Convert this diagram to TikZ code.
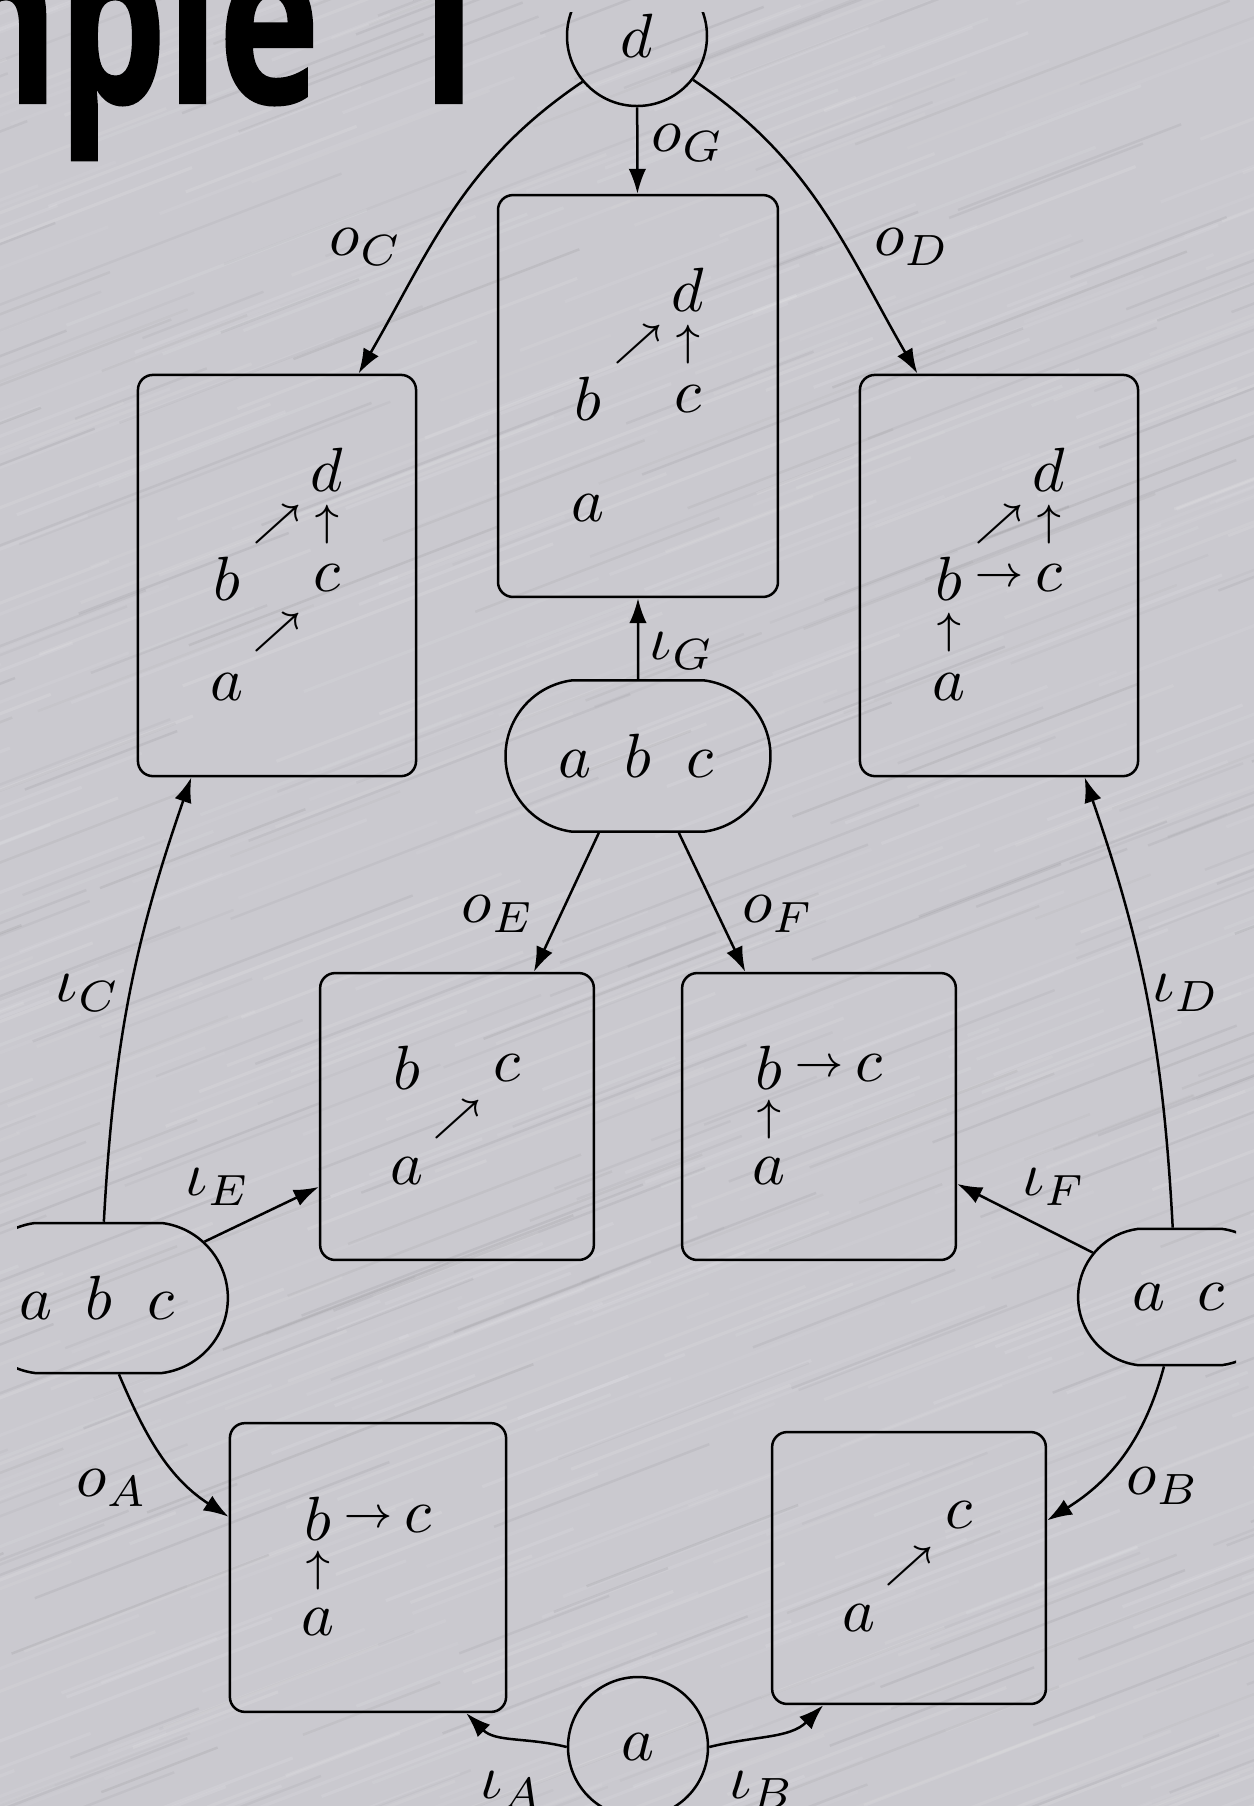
\documentclass[tikz,border=0pt]{standalone}
\usepackage{fontspec}
\usetikzlibrary{shapes.misc,arrows.meta,matrix}
\newfontfamily\titlefont{Open Sans}[BoldFeatures={FakeBold=1}]
\definecolor{metal}{RGB}{202,201,207}
\newcommand\lettercell[1]{\makebox[10pt]{$#1$}}
\begin{document}
\begin{tikzpicture}[x=0.16pt,y=0.16pt,
  every node/.style={inner sep=0pt},
  box/.style={draw, rounded corners=2.4pt},
  oval/.style={draw, rounded rectangle, rounded rectangle arc length=165},
  ring/.style={draw, circle, minimum size=22.4pt},
  grid/.style={matrix of math nodes, nodes in empty cells,
    column sep={8pt,between origins},
    nodes={anchor=center, minimum width=8pt, minimum height=7pt, inner sep=0pt}},
  tallgrid/.style={grid, row sep={8.7pt,between origins}},
  shortgrid/.style={grid, row sep={8.3pt,between origins}},
  edge/.style={-{Latex[length=4pt,width=2.8pt]}, line width=0.4pt},
  lbl/.style={}]
\path[use as bounding box] (0,0) rectangle (1254,-1806);
\fill[metal] (0,0) rectangle (1254,-1806);
\pgfmathsetseed{3}
\foreach \i in {1,...,600}{
  \pgfmathsetmacro\sx{rnd*1700-400}
  \pgfmathsetmacro\sy{-rnd*2100+150}
  \pgfmathsetmacro\sl{120+rnd*300}
  \pgfmathsetmacro\so{0.04+0.08*rnd}
  \draw[white, opacity=\so, line width=0.5pt] (\sx,\sy) -- ++(21:\sl);
}
\foreach \i in {1,...,300}{
  \pgfmathsetmacro\sx{rnd*1700-400}
  \pgfmathsetmacro\sy{-rnd*2100+150}
  \pgfmathsetmacro\sl{120+rnd*300}
  \pgfmathsetmacro\so{0.02+0.04*rnd}
  \draw[black, opacity=\so, line width=0.4pt] (\sx,\sy) -- ++(21:\sl);
}
\node[anchor=base east, font=\titlefont\bfseries\fontsize{38}{42}\selectfont] (title) at (490,-103) {\scalebox{0.72}[1]{Example\hspace{6pt} 1}};
\begin{scope}
\clip (17,-12) rectangle (1236,-1830);
\node[ring] (topd) at (637,-36) {$d$};
\node[ring] (bota) at (638,-1747) {$a$};
\node[oval, minimum width=42.4pt, minimum height=24.2pt] (midabc) at (638,-756) {\lettercell{a}\lettercell{b}\lettercell{c}};
\node[oval, minimum width=41.4pt, minimum height=24pt] (leftabc) at (98.5,-1298) {\lettercell{a}\lettercell{b}\lettercell{c}};
\node[oval, minimum width=32.6pt, minimum height=21.8pt] (rightac) at (1180,-1297) {\lettercell{a}\lettercell{c}};
\node[box, minimum width=44.8pt, minimum height=64.3pt] (boxG) at (638,-396) {};
\node[box, minimum width=44.5pt, minimum height=64.2pt] (boxC) at (277,-575.5) {};
\node[box, minimum width=44.5pt, minimum height=64.2pt] (boxD) at (999,-575.5) {};
\node[box, minimum width=43.8pt, minimum height=45.9pt] (boxE) at (457,-1116.5) {};
\node[box, minimum width=43.8pt, minimum height=45.9pt] (boxF) at (819,-1116.5) {};
\node[box, minimum width=44.2pt, minimum height=46.2pt] (boxA) at (368,-1567.5) {};
\node[box, minimum width=43.8pt, minimum height=43.5pt] (boxB) at (909,-1568) {};
\matrix (mG) [tallgrid] at ([yshift=-0.48pt]boxG.center) {
  & & d \\
  & \scriptstyle\nearrow & \scriptstyle\uparrow \\
  b & & c \\
  & & \\
  a & & \\
};
\matrix (mC) [tallgrid] at ([yshift=-0.48pt]boxC.center) {
  & & d \\
  & \scriptstyle\nearrow & \scriptstyle\uparrow \\
  b & & c \\
  & \scriptstyle\nearrow & \\
  a & & \\
};
\matrix (mD) [tallgrid] at ([yshift=-0.48pt]boxD.center) {
  & & d \\
  & \scriptstyle\nearrow & \scriptstyle\uparrow \\
  b & \scriptstyle\rightarrow & c \\
  \scriptstyle\uparrow & & \\
  a & & \\
};
\matrix (mE) [shortgrid] at ([yshift=-0.48pt]boxE.center) {
  b & & c \\
  & \scriptstyle\nearrow & \\
  a & & \\
};
\matrix (mF) [shortgrid] at ([yshift=-0.48pt]boxF.center) {
  b & \scriptstyle\rightarrow & c \\
  \scriptstyle\uparrow & & \\
  a & & \\
};
\matrix (mA) [shortgrid] at ([yshift=-0.5pt]boxA.center) {
  b & \scriptstyle\rightarrow & c \\
  \scriptstyle\uparrow & & \\
  a & & \\
};
\matrix (mB) [shortgrid] at ([yshift=0.24pt]boxB.center) {
  & & c \\
  & \scriptstyle\nearrow & \\
  a & & \\
};
\draw[edge] (topd) -- (boxG);
\draw[edge] (topd.220) to[out=214,in=60] (boxC.68);
\draw[edge] (topd.-38) to[out=-34,in=120] (boxD.112);
\draw[edge] (midabc) -- (boxG);
\draw[edge] (midabc.243) -- (boxE.62);
\draw[edge] (midabc.-62) -- (boxF.117);
\draw[edge] (leftabc.86) to[bend left=8] (boxC.247);
\draw[edge] (leftabc.28) -- (boxE.207);
\draw[edge] (leftabc.-75) to[out=-67,in=147] (boxA.160);
\draw[edge] (rightac.96) to[bend right=8] (boxD.-67.5);
\draw[edge] (rightac.153) -- (boxF.-26.6);
\draw[edge] (rightac.257) to[out=255,in=32] (boxB.19.4);
\draw[edge] (bota.west) to[out=166,in=-45] (boxA.-56.8);
\draw[edge] (bota.east) to[out=14,in=225] (boxB.238.7);
\node[lbl] (lG) at (688,-143) {$o_G$};
\node[lbl] (lC) at (366,-247) {$o_C$};
\node[lbl] (lD) at (912,-247) {$o_D$};
\node[lbl] (liG) at (682,-651) {$\iota_G$};
\node[lbl] (lE) at (498,-914) {$o_E$};
\node[lbl] (lF) at (778,-914) {$o_F$};
\node[lbl] (liC) at (88,-993) {$\iota_C$};
\node[lbl] (liD) at (1186,-993) {$\iota_D$};
\node[lbl] (liE) at (218,-1187) {$\iota_E$};
\node[lbl] (liF) at (1054,-1187) {$\iota_F$};
\node[lbl] (lA) at (112,-1488) {$o_A$};
\node[lbl] (lB) at (1163,-1486) {$o_B$};
\node[lbl] (liA) at (512,-1790) {$\iota_A$};
\node[lbl] (liB) at (762,-1790) {$\iota_B$};
\end{scope}
\end{tikzpicture}
\end{document}
